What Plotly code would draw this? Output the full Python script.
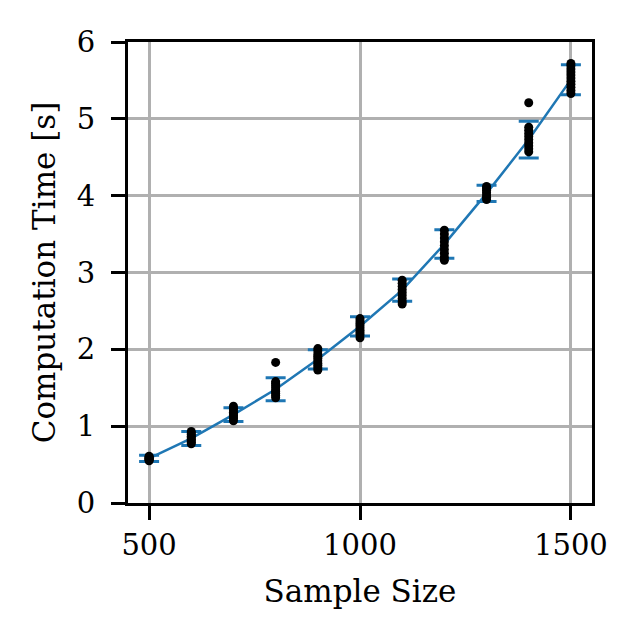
import plotly.graph_objects as go

sample_sizes = [500, 600, 700, 800, 900, 1000, 1100, 1200, 1300, 1400, 1500]
mean_times = [0.58, 0.84, 1.15, 1.48, 1.87, 2.30, 2.77, 3.37, 4.03, 4.73, 5.51]
err_times = [0.04, 0.09, 0.09, 0.15, 0.125, 0.125, 0.145, 0.185, 0.105, 0.24, 0.195]

runs = {
    500: [0.55, 0.56, 0.57, 0.58, 0.58, 0.59, 0.60, 0.61],
    600: [0.77, 0.79, 0.81, 0.83, 0.85, 0.87, 0.89, 0.91, 0.93],
    700: [1.07, 1.10, 1.12, 1.14, 1.16, 1.18, 1.21, 1.23, 1.26],
    800: [1.37, 1.40, 1.43, 1.45, 1.47, 1.50, 1.53, 1.56, 1.58, 1.83],
    900: [1.73, 1.76, 1.79, 1.82, 1.85, 1.88, 1.91, 1.94, 1.98, 2.01],
    1000: [2.15, 2.19, 2.22, 2.25, 2.28, 2.31, 2.34, 2.37, 2.40],
    1100: [2.59, 2.62, 2.66, 2.70, 2.74, 2.78, 2.82, 2.86, 2.90],
    1200: [3.16, 3.20, 3.25, 3.30, 3.35, 3.40, 3.45, 3.50, 3.55],
    1300: [3.95, 3.98, 4.01, 4.04, 4.07, 4.10, 4.12],
    1400: [4.57, 4.61, 4.65, 4.69, 4.73, 4.77, 4.81, 4.85, 4.89, 5.21],
    1500: [5.33, 5.37, 5.41, 5.45, 5.49, 5.53, 5.57, 5.61, 5.65, 5.69, 5.72],
}

x_ticks = [500, 1000, 1500]
y_ticks = [0, 1, 2, 3, 4, 5, 6]

dot_x, dot_y = [], []
for n, vals in runs.items():
    dot_x += [n] * len(vals)
    dot_y += vals

BLUE = "#1f77b4"
FONT = "DejaVu Serif"
TICK_FS = 29
TITLE_FS = 31

fig = go.Figure()
fig.add_trace(go.Scatter(
    x=sample_sizes, y=mean_times, mode="lines",
    line=dict(color=BLUE, width=2.5),
    error_y=dict(type="data", array=err_times, visible=True,
                 color=BLUE, thickness=3, width=10),
    showlegend=False,
))
fig.add_trace(go.Scatter(
    x=dot_x, y=dot_y, mode="markers",
    marker=dict(color="black", size=9, line=dict(width=0)),
    showlegend=False,
))

axis_common = dict(
    showline=True, linecolor="black", linewidth=3, mirror=True,
    ticks="outside", ticklen=14, tickwidth=3, tickcolor="black",
    showgrid=True, gridcolor="#b0b0b0", gridwidth=2.5,
    zeroline=False,
    tickfont=dict(family=FONT, size=TICK_FS, color="black"),
)

fig.update_xaxes(
    range=[450, 1550], tickvals=x_ticks, ticktext=[str(v) for v in x_ticks],
    title=dict(text="Sample Size", font=dict(family=FONT, size=TITLE_FS, color="black"), standoff=20),
    **axis_common,
)
fig.update_yaxes(
    range=[0, 6], tickvals=y_ticks, ticktext=[str(v) for v in y_ticks],
    ticklabelstandoff=10,
    title=dict(text="Computation Time [s]", font=dict(family=FONT, size=TITLE_FS, color="black"), standoff=12),
    **axis_common,
)

fig.update_layout(
    width=635, height=638,
    margin=dict(l=128, r=43, t=42, b=135),
    paper_bgcolor="white", plot_bgcolor="white",
)

fig.write_html("out.html", config={"displayModeBar": False},
               post_script="document.body.style.margin='0';")
